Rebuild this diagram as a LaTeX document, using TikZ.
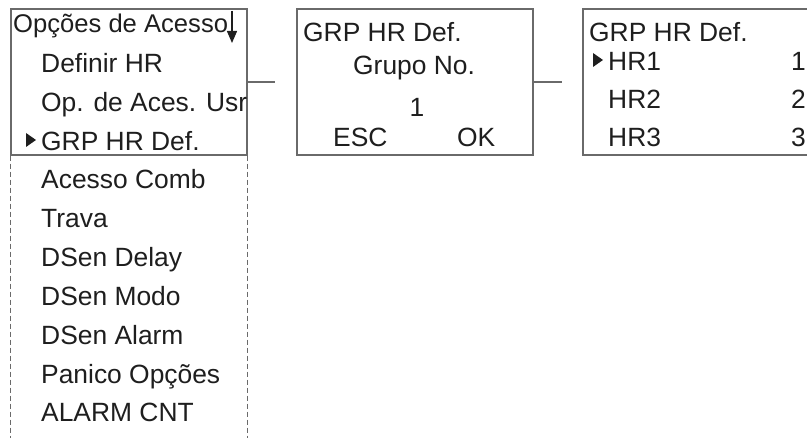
\documentclass[tikz,border=0pt]{standalone}
\usepackage{fontspec}
\setmainfont{Liberation Sans}
\usepackage{tikz}
\usetikzlibrary{arrows.meta}
\definecolor{rim}{HTML}{6A6A6A}
\definecolor{ink}{HTML}{1E1E1E}
\tikzstyle{screen} = [rectangle, draw=rim, line width=1.4pt,
    minimum width=236pt, minimum height=146pt, inner sep=0pt]
\tikzstyle{item} = [anchor=base west, inner sep=0pt, text=ink,
    font=\fontsize{26.4}{30}\selectfont]
\tikzstyle{line} = [draw=rim, line width=1.2pt]
\tikzstyle{dashline} = [draw=rim, line width=1.4pt, dash pattern=on 5pt off 3pt]
\tikzstyle{pointer} = [fill=ink]

\begin{document}
\begin{tikzpicture}[x=1pt, y=-1pt, node distance = 286pt]
  \clip (0,0) rectangle (807,438);
  % screens
  \node [screen](menu) at (129,82) {};
  \node [screen, right of = menu](grupo) {};
  \node [screen, right of = grupo](horas) {};
  % first screen
  \node [item, font=\fontsize{25.6}{30}\selectfont](titulo) at (13,33) {Opções de Acesso};
  \coordinate (setaA) at (232,11);
  \coordinate (setaB) at (232,43);
  \draw [ink, line width=1.4pt, -{Triangle[width=10pt,length=12pt]}] (setaA) -- (setaB);
  \node [item](defhr) at (41,73) {Definir HR};
  \node [item](opaces) at (41,112) {Op. de Aces. Usr};
  \node [item](grphr) at (41,151) {GRP HR Def.};
  \node [item](comb) at (41,189) {Acesso Comb};
  \node [item](trava) at (41,228) {Trava};
  \node [item](delay) at (41,267) {DSen Delay};
  \node [item](modo) at (41,306) {DSen Modo};
  \node [item](alarm) at (41,345) {DSen Alarm};
  \node [item](panico) at (41,384) {Panico Opções};
  \node [item](cnt) at (41,422) {ALARM CNT};
  \coordinate (marca1) at (26,133);
  \fill [pointer] (marca1) -- ++(10,7) -- ++(-10,7) -- cycle;
  % second screen
  \node [item](grptit) at (303,42) {GRP HR Def.};
  \node [item](grupono) at (353,75) {Grupo No.};
  \node [item, anchor=base](numero) at (417,117) {1};
  \node [item](esc) at (333,147) {ESC};
  \node [item](ok) at (457,147) {OK};
  % third screen
  \node [item](hrtit) at (589,42) {GRP HR Def.};
  \node [item](hr1) at (608,71) {HR1};
  \node [item](hr2) at (608,109) {HR2};
  \node [item](hr3) at (608,147) {HR3};
  \node [item](num1) at (791,71) {1};
  \node [item](num2) at (791,109) {2};
  \node [item](num3) at (791,147) {3};
  \coordinate (marca2) at (593,53);
  \fill [pointer] (marca2) -- ++(10,7) -- ++(-10,7) -- cycle;
  % edges
  \coordinate (ponta1) at (275,82);
  \coordinate (ponta2) at (562,82);
  \coordinate (fundo) at (0,442);
  \path [line] (menu.east) -- (ponta1);
  \path [line] (grupo.east) -- (ponta2);
  \path [dashline] (menu.south west) -- (menu.south west |- fundo);
  \path [dashline] (menu.south east) -- (menu.south east |- fundo);
\end{tikzpicture}
\end{document}
